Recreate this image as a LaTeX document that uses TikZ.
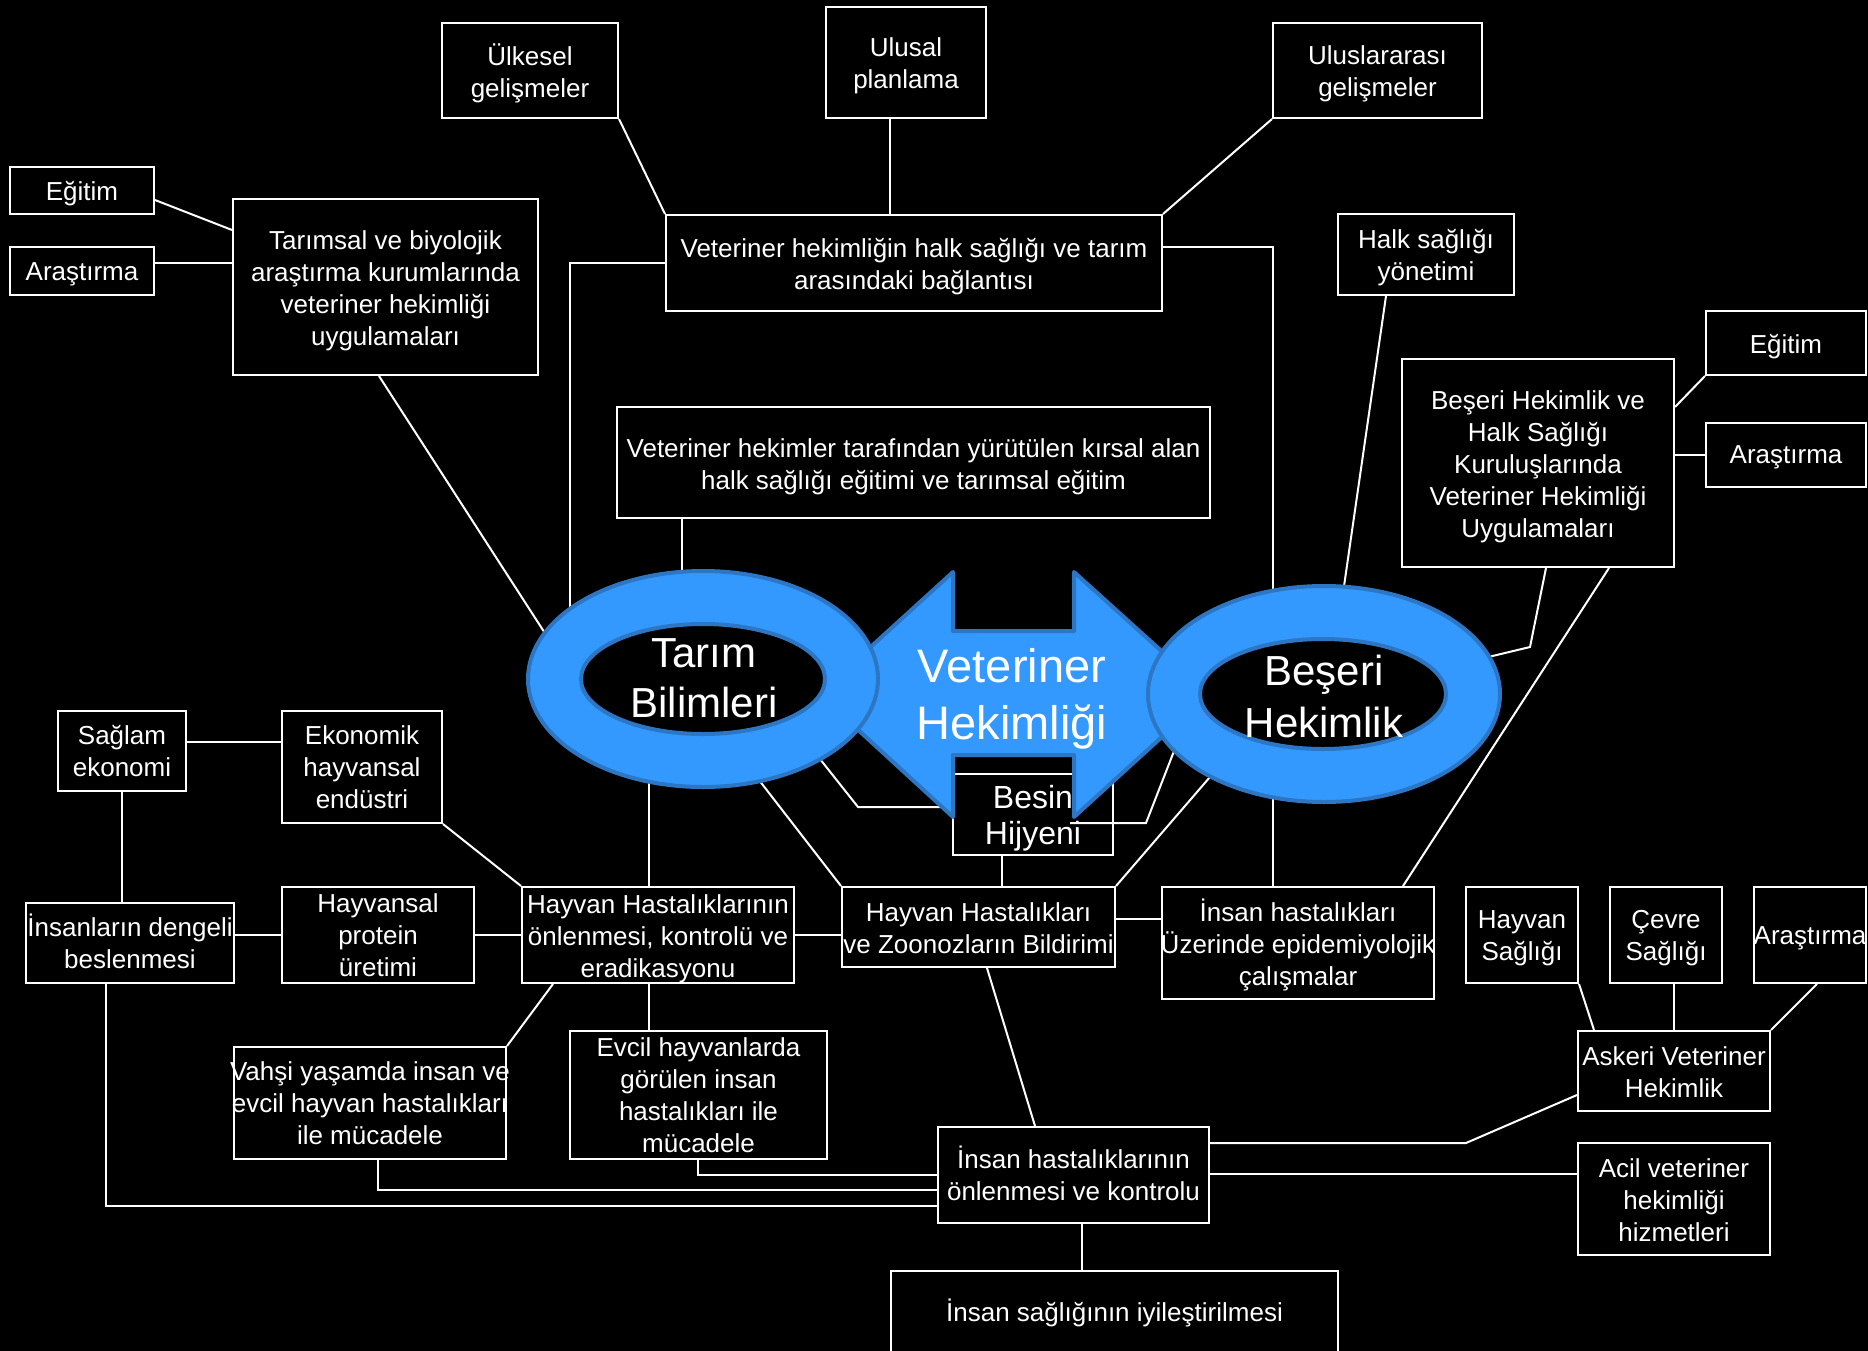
\documentclass[tikz,border=0pt]{standalone}
\usepackage{fontspec}
\setmainfont{Liberation Sans}
\usetikzlibrary{shapes.geometric,calc}
\definecolor{ringf}{RGB}{51,153,255}
\definecolor{ringb}{RGB}{44,118,196}
\begin{document}
\begin{tikzpicture}[x=1pt,y=-1pt,
 box/.style={draw=white, line width=2pt, fill=black, inner sep=0pt},
 lab/.style={text=white, align=center, inner sep=0pt, font={\fontsize{26}{32}\selectfont}},
 tx/.style 2 args={label={[lab,yshift=-#1pt]center:{#2}}},
 sz/.style 2 args={minimum width=#1pt, minimum height=#2pt},
 conn/.style={draw=white, line width=2pt},
 ring/.style={ellipse, draw=ringb, line width=4pt, inner sep=0pt},
 bigtext/.style={text=white, align=center, inner sep=0pt}]
\useasboundingbox (0,0) rectangle (1868,1351);
\fill[black] (0,0) rectangle (1868,1351);
\clip (0,0) rectangle (1868,1351);

% boxes
\node[box,sz={176}{95},tx={2.4}{Ülkesel\\gelişmeler}] (ulk) at (530,70.5) {};
\node[box,sz={160}{111},tx={3.6}{Ulusal\\planlama}] (ulu) at (906,62.5) {};
\node[box,sz={209}{95},tx={3.6}{Uluslararası\\gelişmeler}] (uli) at (1377.5,70.5) {};
\node[box,sz={144}{47},tx={3.6}{Eğitim}] (egl) at (82,190.5) {};
\node[box,sz={144}{48},tx={3.6}{Araştırma}] (arl) at (82,271) {};
\node[box,sz={305}{176},tx={3.6}{Tarımsal ve biyolojik\\araştırma kurumlarında\\veteriner hekimliği\\uygulamaları}] (tbk) at (385.5,287) {};
\node[box,sz={496}{96},tx={3.6}{Veteriner hekimliğin halk sağlığı ve tarım\\arasındaki bağlantısı}] (vb) at (914,263) {};
\node[box,sz={176}{81},tx={3.6}{Halk sağlığı\\yönetimi}] (hsy) at (1426,254.5) {};
\node[box,sz={160}{64},tx={3.6}{Eğitim}] (egr) at (1786,343) {};
\node[box,sz={160}{64},tx={2.4}{Araştırma}] (arr) at (1786,455) {};
\node[box,sz={272}{208},tx={3.6}{Beşeri Hekimlik ve\\Halk Sağlığı\\Kuruluşlarında\\Veteriner Hekimliği\\Uygulamaları}] (bhk) at (1538,463) {};
\node[box,sz={593}{111},tx={4.2}{Veteriner hekimler tarafından yürütülen kırsal alan\\halk sağlığı eğitimi ve tarımsal eğitim}] (vht) at (913.5,462.5) {};
\node[box,sz={128}{80},tx={0}{Sağlam\\ekonomi}] (sag) at (122,751) {};
\node[box,sz={160}{112},tx={0}{Ekonomik\\hayvansal\\endüstri}] (eko) at (362,767) {};
\node[box,sz={208}{80},tx={-1.2}{İnsanların dengeli\\beslenmesi}] (ins) at (130,943) {};
\node[box,sz={192}{96},tx={0.6}{Hayvansal\\protein\\üretimi}] (hpu) at (378,935) {};
\node[box,sz={272}{96},tx={3.6}{Hayvan Hastalıklarının\\önlenmesi, kontrolü ve\\eradikasyonu}] (hhk) at (658,935) {};
\node[box,sz={273}{80},tx={1.2}{Hayvan Hastalıkları\\ve Zoonozların Bildirimi}] (hhz) at (978.5,927) {};
\node[box,sz={272}{112},tx={2.4}{İnsan hastalıkları\\Üzerinde epidemiyolojik\\çalışmalar}] (ihe) at (1298,943) {};
\node[box,sz={112}{96},tx={3}{Hayvan\\Sağlığı}] (hs) at (1522,935) {};
\node[box,sz={112}{96},tx={3}{Çevre\\Sağlığı}] (cs) at (1666,935) {};
\node[box,sz={112}{96},tx={3.6}{Araştırma}] (arb) at (1810,935) {};
\node[box,sz={192}{80},tx={1.2}{Askeri Veteriner\\Hekimlik}] (ask) at (1674,1071) {};
\node[box,sz={272}{112},tx={0.5}{Vahşi yaşamda insan ve\\evcil hayvan hastalıkları\\ile mücadele}] (vah) at (370,1103) {};
\node[box,sz={257}{128},tx={0}{Evcil hayvanlarda\\görülen insan\\hastalıkları ile\\mücadele}] (evc) at (698.5,1095) {};
\node[box,sz={271}{96},tx={-1.2}{İnsan hastalıklarının\\önlenmesi ve kontrolu}] (ihk) at (1073.5,1175) {};
\node[box,sz={192}{112},tx={1.2}{Acil veteriner\\hekimliği\\hizmetleri}] (acil) at (1674,1199) {};
\node[box,sz={447}{82},tx={1.2}{İnsan sağlığının iyileştirilmesi}] (isi) at (1114.5,1312) {};
\node[box,sz={160}{81},label={[lab,font={\fontsize{32}{36}\selectfont},yshift=-3.6pt]center:{Besin\\Hijyeni}}] (besin) at (1033,814.5) {};

% hidden end points inside the rings and bend points
\coordinate (t1) at (550,641);
\coordinate (t2) at (570,640);
\coordinate (t3) at (682,600);
\coordinate (t4) at (816,754);
\coordinate (t5) at (752,771);
\coordinate (t6) at (649,770);
\coordinate (b1) at (1342,600);
\coordinate (b2) at (1480,659);
\coordinate (b3) at (1176,746);
\coordinate (b4) at (1216,770);
\coordinate (bk1) at (1530,647);
\coordinate (bs1) at (858,807);
\coordinate (bs2) at (1070,823);
\coordinate (bs3) at (1146,823);
\coordinate (ak1) at (1466,1143);

% connectors
\draw[conn] (ulk.south east) -- (vb.north west);
\draw[conn] (ulu.south -| 890,0) -- (vb.north -| 890,0);
\draw[conn] (uli.south west) -- (vb.north east);
\draw[conn] ($(egl.east)+(0,9.5)$) -- (tbk.west |- 0,230);
\draw[conn] (arl.east |- 0,263) -- (tbk.west |- 0,263);
\draw[conn] (tbk.south -| 379,0) -- (t1);
\draw[conn] (vb.west) -- (vb.west -| 570,0) -- (t2);
\draw[conn] (vht.south -| 682,0) -- (t3);
\draw[conn] (vb.east |- 0,247) -| (ihe.north -| 1273,0);
\draw[conn] (hsy.south -| 1386,0) -- (b1);
\draw[conn] (bhk.east |- 0,407) -- (egr.south west);
\draw[conn] (bhk.east |- 0,455) -- (arr.west |- 0,455);
\draw[conn] (bhk.south -| 1546,0) -- (bk1) -- (b2);
\draw[conn] (bhk.south -| 1609,0) -- (ihe.north -| 1403,0);
\draw[conn] (besin.west |- 0,807) -- (bs1) -- (t4);
\draw[conn] (bs2) -- (bs3) -- (b3);
\draw[conn] (besin.south -| 1002,0) -- (hhz.north -| 1002,0);
\draw[conn] (t5) -- (hhz.north west);
\draw[conn] (b4) -- (hhz.north east);
\draw[conn] (t6) -- (hhk.north -| 649,0);
\draw[conn] (hhz.east |- 0,919) -- (ihe.west |- 0,919);
\draw[conn] (hhk.east |- 0,935) -- (hhz.west |- 0,935);
\draw[conn] (hpu.east) -- (hhk.west);
\draw[conn] (ins.east |- 0,935) -- (hpu.west);
\draw[conn] (sag.east |- 0,742) -- (eko.west |- 0,742);
\draw[conn] (sag.south -| 122,0) -- (ins.north -| 122,0);
\draw[conn] (eko.south east) -- (hhk.north west);
\draw[conn] (hhk.south -| 553,0) -- (vah.north east);
\draw[conn] (hhk.south -| 649,0) -- (evc.north -| 649,0);
\draw[conn] (evc.south -| 698,0) |- (ihk.west |- 0,1175);
\draw[conn] (vah.south -| 378,0) |- (ihk.west |- 0,1190);
\draw[conn] (ins.south -| 106,0) |- (ihk.west |- 0,1206);
\draw[conn] (hhz.south -| 987,0) -- (ihk.north -| 1035,0);
\draw[conn] (hs.south east) -- (ask.north -| 1594,0);
\draw[conn] (cs.south -| 1674,0) -- (ask.north);
\draw[conn] (arb.south -| 1817,0) -- (ask.north east);
\draw[conn] (ask.west |- 0,1095) -- (ak1) -- (ihk.east |- 0,1143);
\draw[conn] (ihk.east |- 0,1174) -- (acil.west |- 0,1174);
\draw[conn] (ihk.south -| 1082,0) -- (isi.north -| 1082,0);

% double arrow
\draw[fill=ringf, draw=ringb, line width=4pt, line join=round]
  (819,694) -- (953,572) -- (953,631) -- (1074,631) -- (1074,572) -- (1209,694)
  -- (1074,817) -- (1074,755) -- (953,755) -- (953,817) -- cycle;

% rings
\node[ring, fill=ringf, minimum width=350pt, minimum height=216pt] (tarim) at (703,679) {};
\node[ring, fill=black, minimum width=244pt, minimum height=110pt] (tarimin) at (703,679) {};
\node[ring, fill=ringf, minimum width=352pt, minimum height=216pt] (beseri) at (1324,694) {};
\node[ring, fill=black, minimum width=246pt, minimum height=110pt] (beseriin) at (1323,694) {};

% big texts
\node[bigtext, font={\fontsize{42}{50}\selectfont}] (tarimt) at (704,678) {Tarım\\Bilimleri};
\node[bigtext, font={\fontsize{42}{52}\selectfont}] (beserit) at (1324,696) {Beşeri\\Hekimlik};
\node[bigtext, font={\fontsize{47}{57.5}\selectfont}] (vet) at (1012,699) {Veteriner\\Hekimliği};
\end{tikzpicture}
\end{document}
